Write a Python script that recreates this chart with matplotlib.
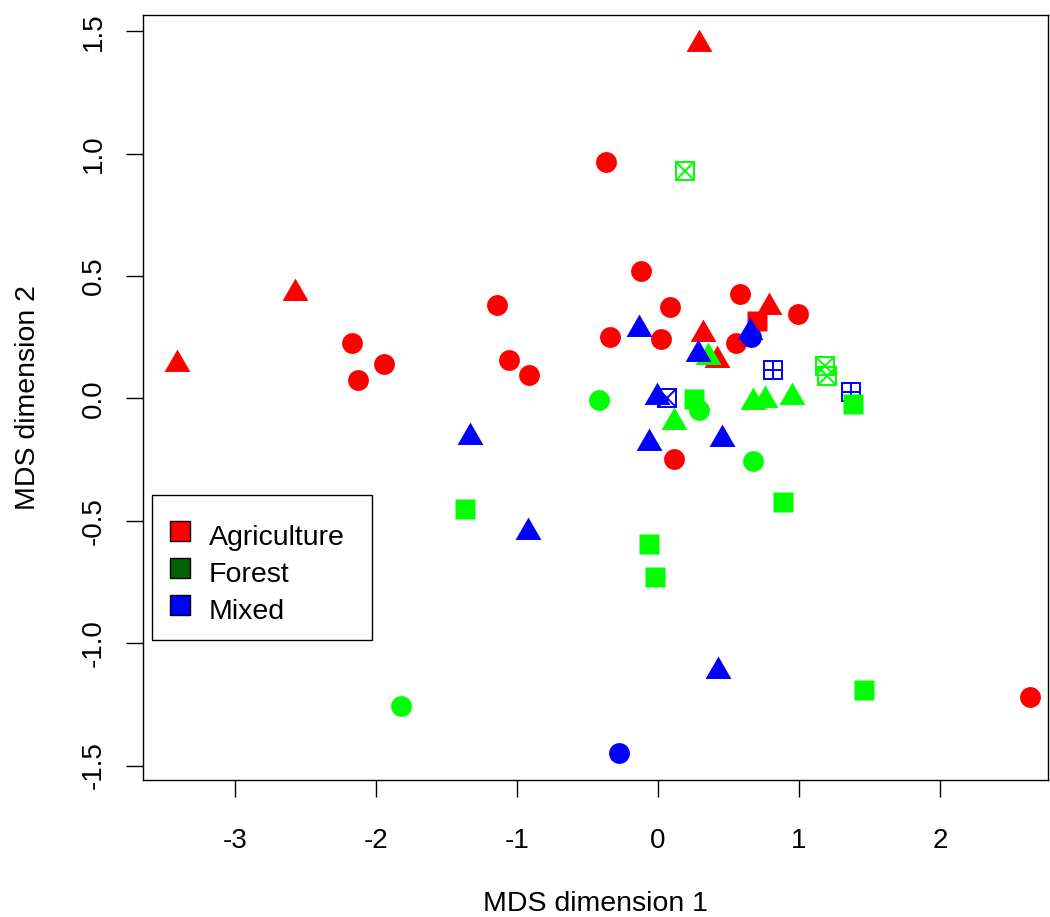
import matplotlib
matplotlib.use("Agg")
import matplotlib.pyplot as plt
from matplotlib.patches import Rectangle

plt.rcParams['font.family'] = ['Liberation Sans', 'DejaVu Sans']
plt.rcParams['axes.unicode_minus'] = False

# MDS scores, one set of arrays per land-use class
agri_x = [-0.367, -0.123, 0.087, 0.584, 0.993, -0.338, 0.019, 0.551, 0.116,
          -2.168, -2.126, -1.941, -1.140, -1.059, -0.913, 2.641,
          0.704,
          0.291, -2.574, -3.414, 0.789, 0.321, 0.416]
agri_y = [0.966, 0.522, 0.375, 0.426, 0.347, 0.253, 0.244, 0.228, -0.247,
          0.228, 0.076, 0.141, 0.382, 0.157, 0.096, -1.219,
          0.318,
          1.447, 0.432, 0.141, 0.372, 0.264, 0.158]
agri_shape = ['circle'] * 16 + ['square'] + ['triangle'] * 6

forest_x = [-0.418, 0.289, 0.672, -1.820,
            0.357, 0.116, 0.676, 0.759, 0.950,
            0.194, 1.184, 1.196,
            0.257, 1.385, -1.367, -0.062, -0.019, 0.889, 1.463]
forest_y = [-0.006, -0.047, -0.257, -1.255,
            0.168, -0.097, -0.013, -0.008, 0.007,
            0.931, 0.133, 0.093,
            -0.003, -0.021, -0.450, -0.593, -0.728, -0.422, -1.191]
forest_shape = (['circle'] * 4 + ['triangle'] * 5 + ['boxx'] * 3
                + ['square'] * 7)

mixed_x = [0.657, -0.274,
           -0.133, 0.655, 0.281, -0.009, -0.066, 0.456, -1.333, -0.920, 0.428,
           0.062,
           0.816, 1.369]
mixed_y = [0.253, -1.447,
           0.284, 0.272, 0.180, 0.005, -0.183, -0.164, -0.157, -0.544, -1.114,
           0.002,
           0.116, 0.025]
mixed_shape = ['circle'] * 2 + ['triangle'] * 9 + ['boxx'] + ['boxplus'] * 2

land_use = ['Agriculture', 'Forest', 'Mixed']
point_colors = ['#ff0000', '#00ff00', '#0000ff']
legend_colors = ['#ff0000', '#006400', '#0000ff']

# triangle centred on its centroid, like R's pch 17
tri = [(0, 1), (0.866, -0.5), (-0.866, -0.5), (0, 1)]


def draw(ax, xs, ys, shapes, color, only=None, skip=None):
    for shape in ['circle', 'triangle', 'boxx', 'boxplus', 'square']:
        if only and shape not in only:
            continue
        if skip and shape in skip:
            continue
        px = [x for x, s in zip(xs, shapes) if s == shape]
        py = [y for y, s in zip(ys, shapes) if s == shape]
        if not px:
            continue
        if shape == 'circle':
            ax.plot(px, py, ls='none', marker='o', ms=15, mfc=color, mec='none')
        elif shape == 'square':
            ax.plot(px, py, ls='none', marker='s', ms=15, mfc=color, mec='none')
        elif shape == 'triangle':
            ax.plot(px, py, ls='none', marker=tri, ms=21.5, mfc=color, mec='none')
        else:
            ax.plot(px, py, ls='none', marker='s', ms=13.2, mfc='none',
                    mec=color, mew=1.4)
            ax.plot(px, py, ls='none', marker='x' if shape == 'boxx' else '+',
                    ms=13.2, mec=color, mew=1.4)


W, H = 1050, 917
fig = plt.figure(figsize=(W / 100, H / 100), dpi=100)
ax = fig.add_axes([0.1362, 0.1494, 0.862, 0.8342])

draw(ax, agri_x, agri_y, agri_shape, point_colors[0])
draw(ax, forest_x, forest_y, forest_shape, point_colors[1], skip=['square'])
draw(ax, mixed_x, mixed_y, mixed_shape, point_colors[2])
draw(ax, forest_x, forest_y, forest_shape, point_colors[1], only=['square'])

ax.set_xlim(-3.652, 2.766)
ax.set_ylim(-1.559, 1.567)
ax.set_xticks([-3, -2, -1, 0, 1, 2])
ax.set_yticks([-1.5, -1.0, -0.5, 0.0, 0.5, 1.0, 1.5])
ax.set_yticklabels(['-1.5', '-1.0', '-0.5', '0.0', '0.5', '1.0', '1.5'],
                   rotation=90, va='center')
ax.tick_params(direction='out', length=12.5, width=1, labelsize=20)
ax.tick_params(axis='x', pad=22)
ax.tick_params(axis='y', pad=13.5)
for sp in ax.spines.values():
    sp.set_linewidth(1)

ax.set_xlabel('MDS dimension 1', fontsize=20.5, labelpad=27)
ax.set_ylabel('MDS dimension 2', fontsize=20.5, labelpad=29)

# legend box laid out in pixels from the top-left corner
def fx(px):
    return px / W


def fy(py):
    return 1 - py / H


fig.patches.append(Rectangle((fx(152), fy(640)), fx(372) - fx(152),
                             fy(495) - fy(640), transform=fig.transFigure,
                             facecolor='white', edgecolor='black', lw=1,
                             zorder=5))
for i, (name, c) in enumerate(zip(land_use, legend_colors)):
    row = 531 + 37 * i
    fig.patches.append(Rectangle((fx(170), fy(row + 10)), fx(20), fy(0) - fy(20),
                                 transform=fig.transFigure, facecolor=c,
                                 edgecolor='black', lw=1, zorder=6))
    fig.text(fx(209), fy(row + 14), name, fontsize=20.5, va='baseline',
             ha='left', zorder=6)

fig.savefig('out.png', dpi=100)
